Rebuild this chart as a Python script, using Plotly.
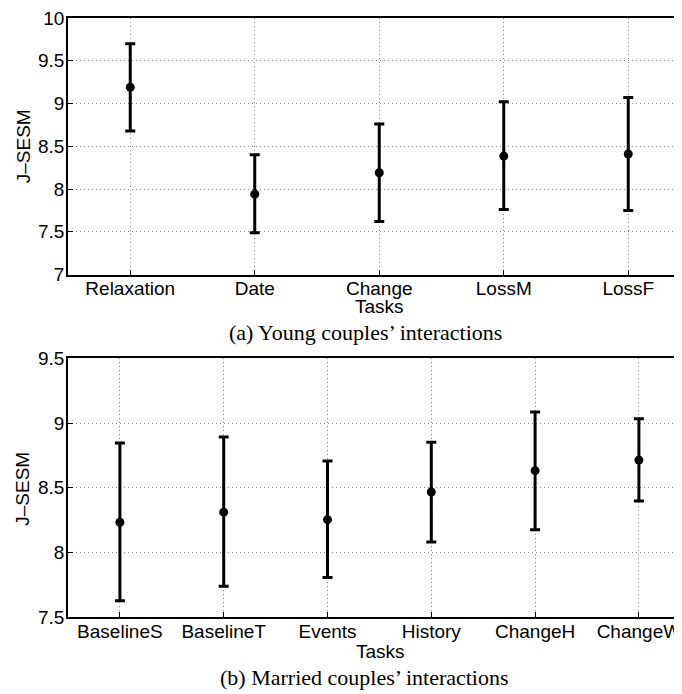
import plotly.graph_objects as go

# ---- data ----
young_tasks = ["Relaxation", "Date", "Change", "LossM", "LossF"]
young_mean = [9.19, 7.94, 8.19, 8.385, 8.41]
young_upper = [9.70, 8.40, 8.76, 9.02, 9.07]
young_lower = [8.68, 7.49, 7.62, 7.76, 7.75]

married_tasks = ["BaselineS", "BaselineT", "Events", "History", "ChangeH", "ChangeW"]
married_mean = [8.233, 8.311, 8.253, 8.467, 8.632, 8.714]
married_upper = [8.846, 8.892, 8.706, 8.851, 9.085, 9.034]
married_lower = [7.625, 7.737, 7.805, 8.080, 8.174, 8.398]

young_yticks = [7, 7.5, 8, 8.5, 9, 9.5, 10]
young_yticklabels = ["7", "7.5", "8", "8.5", "9", "9.5", "10"]
married_yticks = [7.5, 8, 8.5, 9, 9.5]
married_yticklabels = ["7.5", "8", "8.5", "9", "9.5"]

x_title = "Tasks"
y_title = "J\u2013SESM"
caption_a = "(a) Young couples\u2019 interactions"
caption_b = "(b) Married couples\u2019 interactions"

# ---- figure ----
OFF = 8  # page body margin
PW, PH = 682, 694
W, H = PW - OFF, PH - OFF
L, R, T, B = 68 - OFF, 0, 10 - OFF, PH - 617
ph = H - T - B


def py(p):  # page pixel -> paper y
    return (PH - B - p) / ph


def px(p):  # page pixel -> paper x
    return (p - 68) / (PW - 68)


xa = list(range(1, len(young_tasks) + 1))
xb = list(range(1, len(married_tasks) + 1))

fig = go.Figure()
fig.add_trace(go.Scatter(
    x=xa, y=young_mean, mode="markers",
    marker=dict(color="black", size=9),
    error_y=dict(type="data", symmetric=False,
                 array=[u - m for u, m in zip(young_upper, young_mean)],
                 arrayminus=[m - l for m, l in zip(young_mean, young_lower)],
                 color="black", thickness=3, width=5),
    xaxis="x", yaxis="y", showlegend=False))
fig.add_trace(go.Scatter(
    x=xb, y=married_mean, mode="markers",
    marker=dict(color="black", size=9),
    error_y=dict(type="data", symmetric=False,
                 array=[u - m for u, m in zip(married_upper, married_mean)],
                 arrayminus=[m - l for m, l in zip(married_mean, married_lower)],
                 color="black", thickness=3, width=5),
    xaxis="x2", yaxis="y2", showlegend=False))

tick_font = dict(family="Liberation Sans, Arial, sans-serif", size=19, color="black")
cap_font = dict(family="Liberation Serif, Times New Roman, serif", size=22, color="black")

common_x = dict(showline=True, linecolor="black", linewidth=1.5, mirror=True,
                ticks="inside", ticklen=5, tickcolor="black", tickwidth=1,
                showgrid=True, gridcolor="#8a8a8a", griddash="1px,3px", gridwidth=1,
                zeroline=False, tickfont=tick_font, ticklabelstandoff=-4,
                ticklabeloverflow="allow")
common_y = dict(showline=True, linecolor="black", linewidth=1.5, mirror=False,
                ticks="inside", ticklen=5, tickcolor="black", tickwidth=1,
                showgrid=True, gridcolor="#8a8a8a", griddash="1px,3px", gridwidth=1,
                zeroline=False, tickfont=tick_font, ticklabelstandoff=-2,
                ticklabeloverflow="allow")

sp_a = (PW - 68) / 124.5
sp_b = (PW - 68) / 103.8

fig.update_layout(
    width=W, height=H,
    margin=dict(l=L, r=R, t=T, b=B),
    paper_bgcolor="white", plot_bgcolor="white",
    xaxis=dict(common_x, domain=[0, 1], anchor="y", range=[0.5, 0.5 + sp_a],
               tickvals=xa, ticktext=young_tasks),
    yaxis=dict(common_y, domain=[py(270), py(10)], anchor="x", range=[7, 10],
               tickvals=young_yticks, ticktext=young_yticklabels),
    xaxis2=dict(common_x, domain=[0, 1], anchor="y2", range=[0.5, 0.5 + sp_b],
                tickvals=xb, ticktext=married_tasks),
    yaxis2=dict(common_y, domain=[py(617), py(355)], anchor="x2", range=[7.5, 9.5],
                tickvals=married_yticks, ticktext=married_yticklabels),
)

ann = [
    dict(text=x_title, x=px(379), y=py(302), font=tick_font),
    dict(text=x_title, x=px(380), y=py(652), font=tick_font),
    dict(text=caption_a, x=px(365), y=py(329), font=cap_font),
    dict(text=caption_b, x=px(364), y=py(678), font=cap_font),
    dict(text=y_title, x=px(23), y=py(140), font=tick_font, textangle=-90),
    dict(text=y_title, x=px(23), y=py(487), font=tick_font, textangle=-90),
]
for a in ann:
    fig.add_annotation(xref="paper", yref="paper", showarrow=False,
                       xanchor="center", yanchor="middle", **a)

fig.write_html("out.html")
